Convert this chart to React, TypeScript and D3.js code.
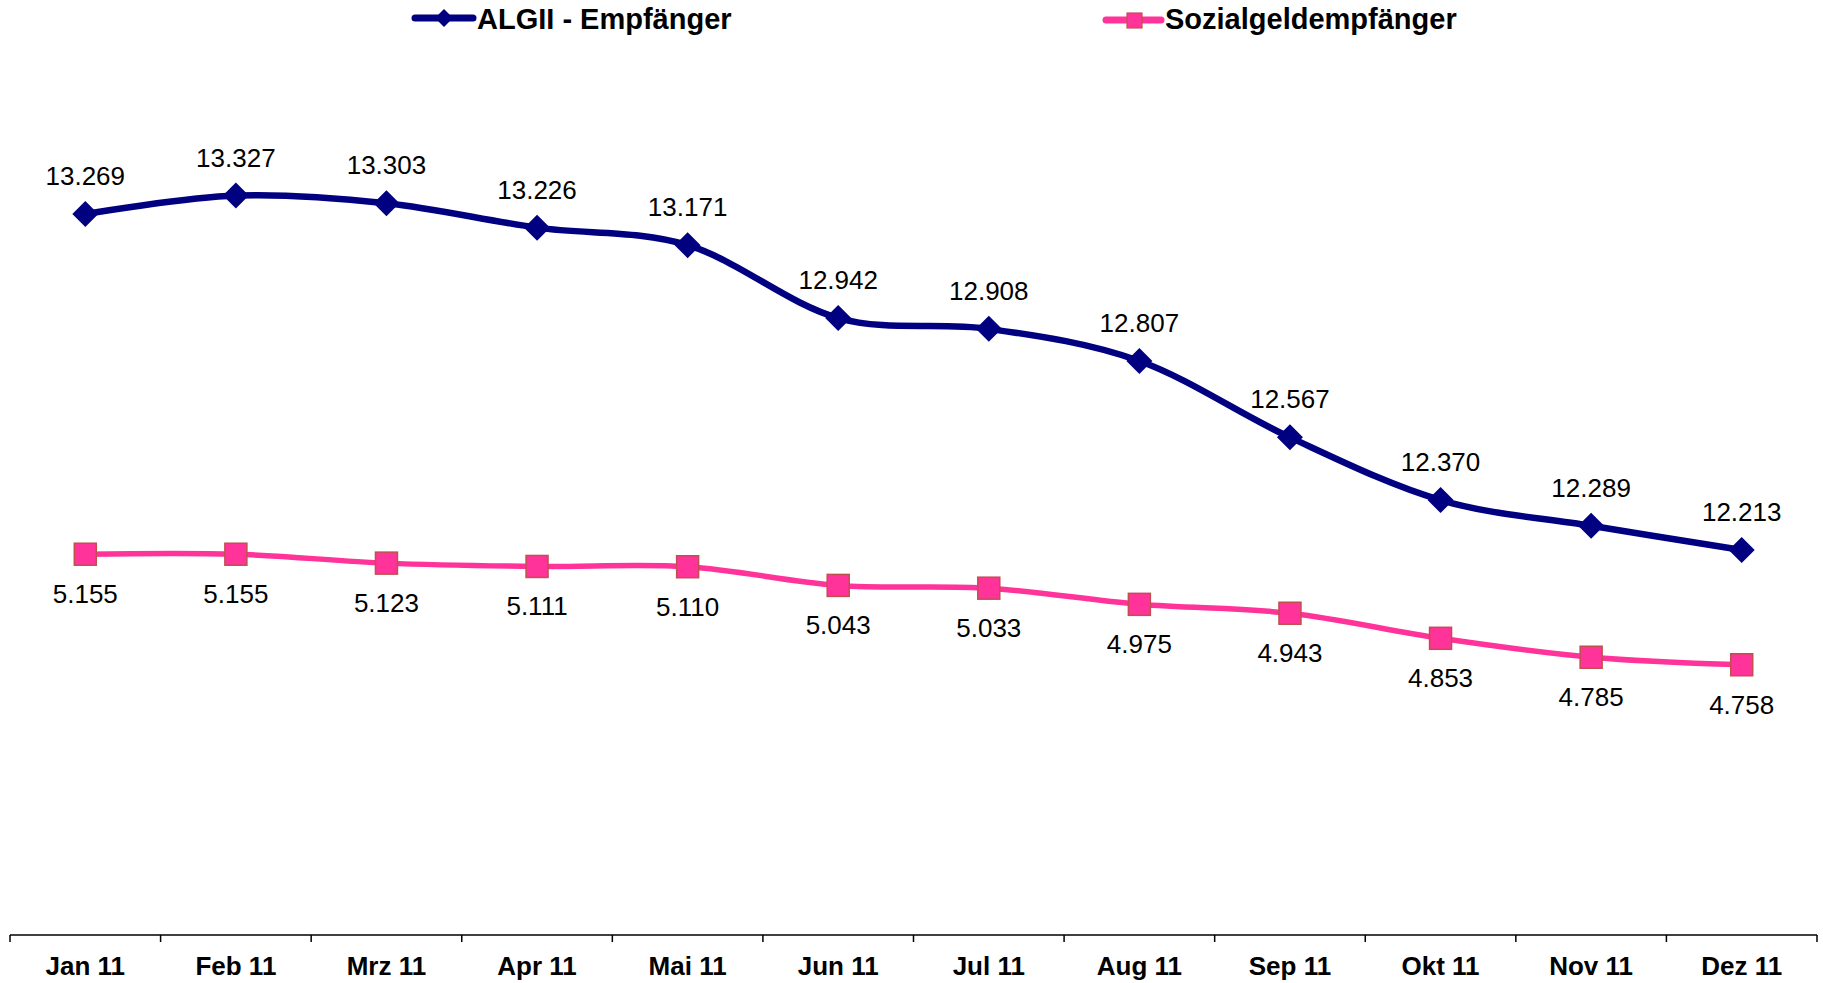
import React, { useEffect, useRef } from 'react';
import * as d3 from 'd3';

const months = ['Jan 11', 'Feb 11', 'Mrz 11', 'Apr 11', 'Mai 11', 'Jun 11', 'Jul 11', 'Aug 11', 'Sep 11', 'Okt 11', 'Nov 11', 'Dez 11'];
const algValues = [13.269, 13.327, 13.303, 13.226, 13.171, 12.942, 12.908, 12.807, 12.567, 12.37, 12.289, 12.213];
const sozValues = [5.155, 5.155, 5.123, 5.111, 5.11, 5.043, 5.033, 4.975, 4.943, 4.853, 4.785, 4.758];
const algName = 'ALGII - Empfänger';
const sozName = 'Sozialgeldempfänger';

const W = 1823;
const H = 983;
const FONT = 'Arial, "Liberation Sans", sans-serif';
const fmt = (v: number) => v.toFixed(3);

const drawChart = (svgEl: SVGSVGElement) => {
	const svg = d3.select(svgEl);
	svg.selectAll('*').remove();

	const top = 44;
	const bottom = 935;
	const x = d3.scaleBand<string>().domain(months).range([10, 1817]).padding(0);
	const cx = (m: string) => (x(m) as number) + x.bandwidth() / 2;
	const yAlg = d3.scaleLinear().domain([11, 13.8]).range([bottom + 1, top + 1]);
	const ySoz = d3.scaleLinear().domain([3.8, 7.0]).range([bottom - 3.5, top - 3.5]);

	// x axis: line with ticks on the category boundaries
	const axis = svg.append('g').attr('transform', `translate(0,${ bottom })`);
	axis.append('line').attr('x1', 10).attr('x2', 1817).attr('stroke', '#000').attr('stroke-width', 1.5);
	const bounds = months.map((m) => x(m) as number).concat([1817]);
	axis.selectAll('line.tick').data(bounds).enter()
		.append('line')
		.attr('class', 'tick')
		.attr('x1', (d) => d).attr('x2', (d) => d)
		.attr('y1', 0).attr('y2', 7)
		.attr('stroke', '#000').attr('stroke-width', 1.5);
	axis.selectAll('text').data(months).enter()
		.append('text')
		.attr('x', (d) => cx(d))
		.attr('y', 40)
		.attr('text-anchor', 'middle')
		.attr('font-family', FONT)
		.attr('font-weight', 'bold')
		.attr('font-size', 26)
		.text((d) => d);

	const curve = d3.curveCardinal.tension(0);

	// Sozialgeld series
	const sozLine = d3.line<number>().x((_, i) => cx(months[i])).y((d) => ySoz(d)).curve(curve);
	svg.append('path').attr('d', sozLine(sozValues)).attr('fill', 'none')
		.attr('stroke', '#FF3399').attr('stroke-width', 5.5);
	svg.selectAll('rect.soz').data(sozValues).enter()
		.append('rect')
		.attr('class', 'soz')
		.attr('x', (_, i) => cx(months[i]) - 11)
		.attr('y', (d) => ySoz(d) - 11)
		.attr('width', 22).attr('height', 22)
		.attr('fill', '#FF3399').attr('stroke', '#C0504D').attr('stroke-width', 1.5);
	svg.selectAll('text.soz').data(sozValues).enter()
		.append('text')
		.attr('class', 'soz')
		.attr('x', (_, i) => cx(months[i]))
		.attr('y', (d) => ySoz(d) + 49)
		.attr('text-anchor', 'middle')
		.attr('font-family', FONT)
		.attr('font-size', 26)
		.text((d) => fmt(d));

	// ALG II series
	const algLine = d3.line<number>().x((_, i) => cx(months[i])).y((d) => yAlg(d)).curve(curve);
	svg.append('path').attr('d', algLine(algValues)).attr('fill', 'none')
		.attr('stroke', '#000080').attr('stroke-width', 6.5);
	const diamond = (r: number) => `M0,${ -r }L${ r },0L0,${ r }L${ -r },0Z`;
	svg.selectAll('path.alg').data(algValues).enter()
		.append('path')
		.attr('class', 'alg')
		.attr('transform', (d, i) => `translate(${ cx(months[i]) },${ yAlg(d) })`)
		.attr('d', diamond(13))
		.attr('fill', '#000080');
	svg.selectAll('text.alg').data(algValues).enter()
		.append('text')
		.attr('class', 'alg')
		.attr('x', (_, i) => cx(months[i]))
		.attr('y', (d) => yAlg(d) - 29)
		.attr('text-anchor', 'middle')
		.attr('font-family', FONT)
		.attr('font-size', 26)
		.text((d) => fmt(d));

	// legend
	const lg = svg.append('g');
	lg.append('line').attr('x1', 415).attr('x2', 473).attr('y1', 18).attr('y2', 18)
		.attr('stroke', '#000080').attr('stroke-width', 7).attr('stroke-linecap', 'round');
	lg.append('path').attr('transform', 'translate(444,18)').attr('d', diamond(9)).attr('fill', '#000080');
	lg.append('text').attr('x', 477).attr('y', 29)
		.attr('font-family', FONT).attr('font-weight', 'bold').attr('font-size', 29)
		.text(algName);
	lg.append('line').attr('x1', 1106).attr('x2', 1161).attr('y1', 20).attr('y2', 20)
		.attr('stroke', '#FF3399').attr('stroke-width', 7).attr('stroke-linecap', 'round');
	lg.append('rect').attr('x', 1127).attr('y', 13).attr('width', 15).attr('height', 15)
		.attr('fill', '#FF3399').attr('stroke', '#C0504D').attr('stroke-width', 1.2);
	lg.append('text').attr('x', 1165).attr('y', 29)
		.attr('font-family', FONT).attr('font-weight', 'bold').attr('font-size', 29)
		.text(sozName);
};

const App = () => {
	const ref = useRef<SVGSVGElement>(null);

	useEffect(() => {
		if (ref.current) drawChart(ref.current);
	}, []);

	return (
		<svg ref={ ref } width={ W } height={ H }
			style={ { position: 'absolute', left: 0, top: 0, background: '#fff' } }/>
	);
};

export default App;
